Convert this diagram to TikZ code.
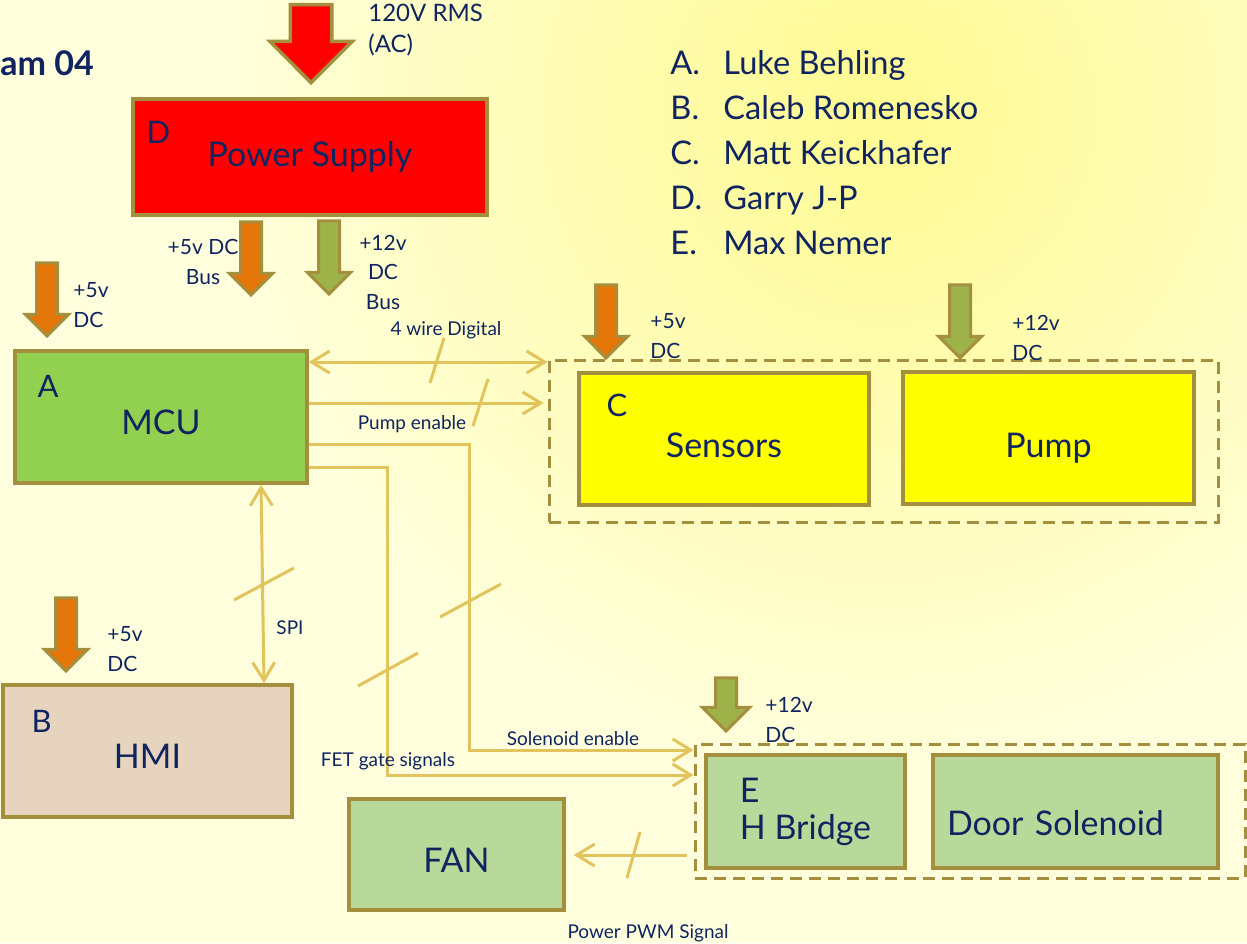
\documentclass[tikz,border=0pt]{standalone}
\usepackage{fontspec}
\setmainfont{Lato}
\usetikzlibrary{positioning,calc,arrows.meta,shapes.arrows}
\definecolor{ink}{RGB}{16,37,96}
\definecolor{rim}{RGB}{164,143,63}
\definecolor{wirec}{RGB}{226,196,92}
\definecolor{bgl}{RGB}{255,255,222}
\definecolor{bgr}{RGB}{255,250,145}
\definecolor{psred}{RGB}{255,0,0}
\definecolor{dcorange}{RGB}{228,118,10}
\definecolor{dcgreen}{RGB}{158,178,74}
\definecolor{mcugreen}{RGB}{146,208,80}
\definecolor{hmitan}{RGB}{230,212,190}
\definecolor{senyellow}{RGB}{255,255,0}
\definecolor{solgreen}{RGB}{185,217,155}
\tikzset{%
  unit/.style = {
    draw = rim,
    line width = 1.75pt,
    fill = #1,
    text = ink,
    align = center,
    font = \fontsize{17}{18.5}\selectfont,
  },
  low/.style = {
    text height = #1,
    text depth = 0pt,
  },
  low/.default = {17.5pt},
  group/.style = {
    draw = rim,
    line width = 1.5pt,
    dash pattern = on 6pt off 3.5pt,
  },
  tag/.style = {
    text = ink,
    inner sep = 0pt,
    font = \fontsize{15.5}{18}\selectfont,
  },
  feed/.style = {
    single arrow,
    rotate = -90,
    anchor = tip,
    draw = rim,
    line width = 1.5pt,
    fill = #1,
    inner sep = 4.5pt,
    single arrow head extend = 5.5pt,
    minimum height = 36.5pt,
  },
  mains/.style = {
    feed = psred,
    line width = 1.75pt,
    inner sep = 9.5pt,
    single arrow head extend = 10.25pt,
    minimum height = 39pt,
  },
  volt/.style = {
    text = ink,
    inner sep = 0pt,
    font = \fontsize{10.5}{14.75}\selectfont,
  },
  sig/.style = {
    text = ink,
    inner sep = 0pt,
    font = \fontsize{9.5}{11}\selectfont,
  },
  wire/.style = {
    draw = wirec,
    line width = 1.5pt,
    > = {Straight Barb[length=9pt, width=11pt]},
  },
  tick/.style = {
    draw = wirec,
    line width = 1.5pt,
  },
}

\begin{document}
\begin{tikzpicture}[x=0.5pt, y=-0.5pt]
\useasboundingbox (0,0) rectangle (1247,943);
\fill[bgl] (0,0) rectangle (1247,943);
\begin{scope}
  \clip (0,0) rectangle (1247,943);
  \shade[inner color=bgr, outer color=bgl] (880,110) circle (680);
\end{scope}

% heading and team
\node(title) [tag, font=\fontsize{17}{18}\bfseries\selectfont, anchor=west] at (0,63) {am 04};
\node(team) [tag, font=\fontsize{16.3}{22.5}\selectfont, align=left, anchor=west] at (670,153)
  {\makebox[26.5pt][l]{A.}Luke Behling\\
   \makebox[26.5pt][l]{B.}Caleb Romenesko\\
   \makebox[26.5pt][l]{C.}Matt Keickhafer\\
   \makebox[26.5pt][l]{D.}Garry J-P\\
   \makebox[26.5pt][l]{E.}Max Nemer};

% groups
\node(grpC) [group, minimum width=334.5pt, minimum height=81pt] at (883.5,441) {};
\node(grpE) [group, minimum width=275pt, minimum height=67pt] at (970,811) {};

% blocks
\node(ps)   [unit=psred, minimum width=177pt, minimum height=58pt] at (310,157) {Power Supply};
\node(mcu)  [unit=mcugreen, low, minimum width=146pt, minimum height=66pt] at (161,417) {MCU};
\node(hmi)  [unit=hmitan, low, minimum width=144.5pt, minimum height=66pt] at (147.5,751) {HMI};
\node(sen)  [unit=senyellow, low=18.5pt, minimum width=145pt, minimum height=66pt] at (724,439) {Sensors};
\node(pump) [unit=senyellow, low=19pt, minimum width=145.5pt, minimum height=66pt] at (1048.5,438) {Pump};
\node(hb)   [unit=solgreen, align=left, minimum width=99.5pt, minimum height=56.5pt] at (805.5,811.5) {E\\H Bridge};
\node(ds)   [unit=solgreen, low=24pt, align=left, text width=128.5pt, minimum width=142.5pt, minimum height=56.5pt] at (1075.5,811.5) {Door Solenoid};
\node(fan)  [unit=solgreen, low, minimum width=107.5pt, minimum height=55.5pt] at (456.5,854.5) {FAN};

\node(dtag) [tag, below right = 12pt and 7.5pt of ps.north west] {D};
\node(atag) [tag, below right = 13pt and 12pt of mcu.north west] {A};
\node(btag) [tag, below right = 13.5pt and 15pt of hmi.north west] {B};
\node(ctag) [tag, below right = 11pt and 14.5pt of sen.north west] {C};

% supply arrows
\node(ac)    [mains] at (311,85) {};
\node(bus5)  [feed=dcorange] at (251,297) {};
\node(bus12) [feed=dcgreen] at (329,296) {};
\node(in5a)  [feed=dcorange] at (47,338) {};
\node(in5b)  [feed=dcorange] at (66,673) {};
\node(in5c)  [feed=dcorange] at (606,360) {};
\node(in12c) [feed=dcgreen] at (960,360) {};
\node(in12e) [feed=dcgreen, minimum height=26.5pt, single arrow head extend=6.5pt] at (726,733) {};

\node(acl)    [volt, font=\fontsize{12}{15.5}\selectfont, align=left, anchor=west] at (368,30) {120V RMS\\(AC)};
\node(bus5l)  [volt, align=center] at (203,262) {+5v DC\\Bus};
\node(bus12l) [volt, align=center] at (383,272) {+12v\\DC\\Bus};
\node(in5al)  [volt, align=left, anchor=west] at (73,305) {+5v\\DC};
\node(in5bl)  [volt, align=left, anchor=west] at (107,649) {+5v\\DC};
\node(in5cl)  [volt, align=left, anchor=west] at (650,336) {+5v\\DC};
\node(in12cl) [volt, align=left, anchor=west] at (1012,338) {+12v\\DC};
\node(in12el) [volt, align=left, anchor=west] at (765,720) {+12v\\DC};

% signals
\draw[wire, <->] (mcu.east |- 0,362) -- (grpC.west |- 0,362);
\draw[wire, ->, shorten >=2pt] (mcu.east |- 0,403) -- (grpC.west |- 0,403);
\draw[wire, ->] (mcu.east |- 0,444) -| (469,750) -- (grpE.west |- 0,750);
\draw[wire, ->] (mcu.east |- 0,467) -| (387,775) -- (grpE.west |- 0,775);
\draw[wire, <->] (mcu.south -| 261,0) -- (hmi.north -| 264,0);
\draw[wire, ->, shorten <=3.5pt, shorten >=4pt] (grpE.west |- 0,855) -- (fan.east |- 0,855);

\draw[tick] (444,338) -- (430,383);
\draw[tick] (488,379) -- (473,426);
\draw[tick] (234,600) -- (294,568);
\draw[tick] (358,686) -- (418,653);
\draw[tick] (440,617) -- (501,584);
\draw[tick] (640,832) -- (627,878);

\node(l4w)  [sig] at (446,330) {4 wire Digital};
\node(lpe)  [sig] at (412,424) {Pump enable};
\node(lspi) [sig] at (290,628) {SPI};
\node(lsol) [sig] at (573,739) {Solenoid enable};
\node(lfet) [sig] at (388,761) {FET gate signals};
\node(lpwm) [sig] at (648,933) {Power PWM Signal};
\end{tikzpicture}
\end{document}
